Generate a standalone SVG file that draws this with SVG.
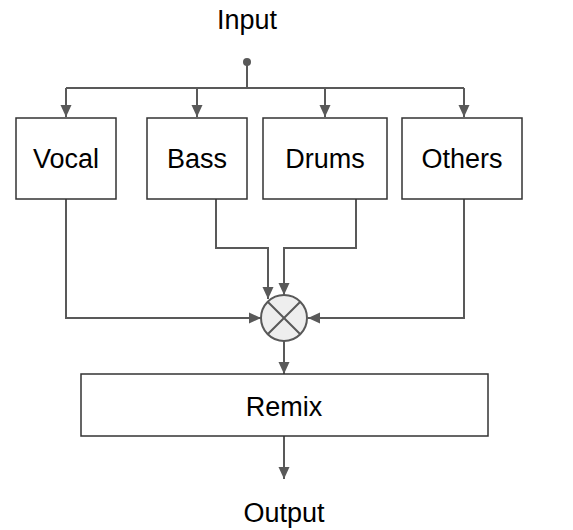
<svg xmlns="http://www.w3.org/2000/svg" width="573" height="530" viewBox="0 0 573 530">
<defs>
<marker id="ah" markerWidth="12" markerHeight="12" viewBox="0 0 12 12" refX="12" refY="6" orient="auto" markerUnits="userSpaceOnUse">
<path d="M0,0.5 L12,6 L0,11.5 Z" fill="#595959"/>
</marker>
<style>
.box{fill:#fff;stroke:#333;stroke-width:1.5}
.lbl{font-family:"Liberation Sans",Arial,sans-serif;font-size:27px;fill:#000;text-anchor:middle}
.c{fill:none;stroke:#595959;stroke-width:2}
</style>
</defs>
<rect width="573" height="530" fill="#fff"/>
<text class="lbl" x="247" y="29">Input</text>
<text class="lbl" x="284" y="522">Output</text>
<g id="connectors">
<circle cx="247" cy="62" r="4" fill="#595959"/>
<path class="c" d="M247,62 V88"/>
<path class="c" d="M66,88 H464"/>
<path class="c" d="M66,88 V117" marker-end="url(#ah)"/>
<path class="c" d="M197,88 V117" marker-end="url(#ah)"/>
<path class="c" d="M325,88 V117" marker-end="url(#ah)"/>
<path class="c" d="M464,88 V117" marker-end="url(#ah)"/>
<path class="c" d="M66,199 V318 H261" marker-end="url(#ah)"/>
<path class="c" d="M464,199 V318 H308" marker-end="url(#ah)"/>
<path class="c" d="M216,199 V248 H268 V299" marker-end="url(#ah)"/>
<path class="c" d="M356,199 V248 H284 V295" marker-end="url(#ah)"/>
<path class="c" d="M284,341 V374" marker-end="url(#ah)"/>
<path class="c" d="M284,436 V479" marker-end="url(#ah)"/>
</g>
<g id="vocal"><rect class="box" x="16" y="118" width="100" height="81"/><text class="lbl" x="66" y="168">Vocal</text></g>
<g id="bass"><rect class="box" x="147" y="118" width="100" height="81"/><text class="lbl" x="197" y="168">Bass</text></g>
<g id="drums"><rect class="box" x="263" y="118" width="124" height="81"/><text class="lbl" x="325" y="168">Drums</text></g>
<g id="others"><rect class="box" x="402" y="118" width="120" height="81"/><text class="lbl" x="462" y="168">Others</text></g>
<g id="mixer">
<circle cx="284" cy="318" r="23" fill="#eee" stroke="#595959" stroke-width="2"/>
<path d="M267.7,301.7 L300.3,334.3 M300.3,301.7 L267.7,334.3" stroke="#595959" stroke-width="2"/>
</g>
<g id="remix"><rect class="box" x="81" y="374" width="407" height="62"/><text class="lbl" x="284" y="416">Remix</text></g>
</svg>
